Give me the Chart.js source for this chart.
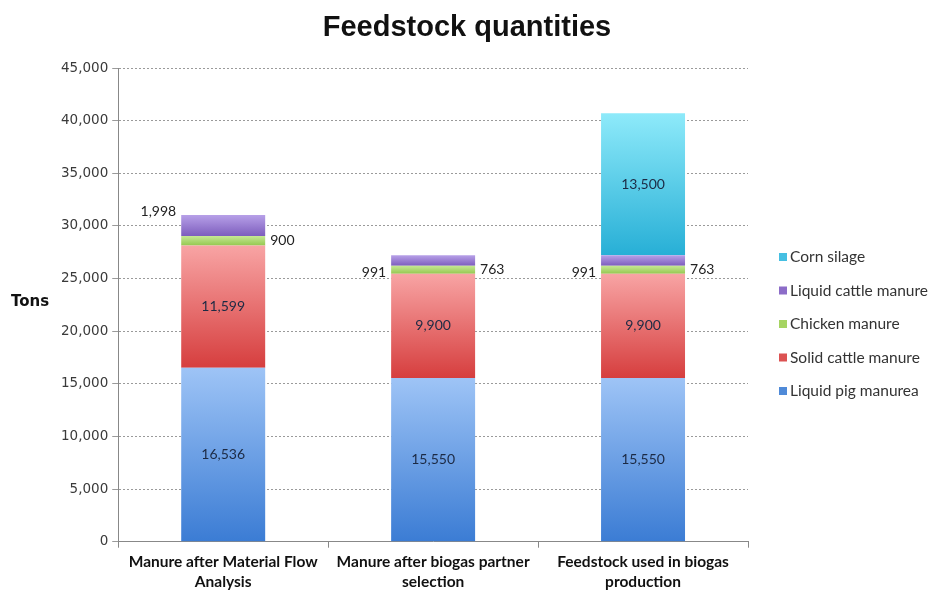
<!DOCTYPE html>
<html>
<head>
<meta charset="utf-8">
<script src="https://cdn.jsdelivr.net/npm/chart.js@4"></script>
<style>
  html, body { margin: 0; padding: 0; background: #fff; }
  #wrap { width: 932px; height: 590px; }
</style>
</head>
<body>
<div id="wrap"><canvas id="feedChart" width="932" height="590"></canvas></div>
<script>
// chart data
const categories = [
  ['Manure after Material Flow', 'Analysis'],
  ['Manure after biogas partner', 'selection'],
  ['Feedstock used in biogas', 'production']
];
const seriesNames = ['Liquid pig manurea', 'Solid cattle manure', 'Chicken manure', 'Liquid cattle manure', 'Corn silage'];
const liquidPig = [16536, 15550, 15550];
const solidCattle = [11599, 9900, 9900];
const chicken = [900, 763, 763];
const liquidCattle = [1998, 991, 991];
const cornSilage = [0, 0, 13500];
const yTicks = [0, 5000, 10000, 15000, 20000, 25000, 30000, 35000, 40000, 45000];

const seriesValues = [liquidPig, solidCattle, chicken, liquidCattle, cornSilage];

// top / bottom gradient colours and the flat colour for the legend box
const palette = [
  { top: '#9ec4f6', bottom: '#3b7cd4', flat: '#4f8ad8' },
  { top: '#f8a4a4', bottom: '#d63e3e', flat: '#dc5252' },
  { top: '#c6e894', bottom: '#95c850', flat: '#a6d462' },
  { top: '#b7a0e8', bottom: '#7d5dbd', flat: '#8c6cc8' },
  { top: '#8eeafa', bottom: '#27afd6', flat: '#45bfe2' }
];

function segmentFill(dsIndex) {
  return function (context) {
    const c = palette[dsIndex];
    if (context.type !== 'data') return c.flat;
    const chart = context.chart;
    const y = chart.scales.y;
    if (!y || !chart.chartArea) return c.flat;
    let start = 0;
    for (let i = 0; i < dsIndex; i++) start += seriesValues[i][context.dataIndex];
    const end = start + seriesValues[dsIndex][context.dataIndex];
    const g = chart.ctx.createLinearGradient(0, y.getPixelForValue(end), 0, y.getPixelForValue(start));
    g.addColorStop(0, c.top);
    g.addColorStop(1, c.bottom);
    return g;
  };
}

const fmt = v => v.toLocaleString('en-US');

// value labels: big segments inside, small ones beside the bar
const valueLabels = {
  id: 'valueLabels',
  afterDatasetsDraw(chart) {
    const ctx = chart.ctx;
    ctx.save();
    ctx.font = '14px Lato, "Open Sans", sans-serif';
    ctx.textBaseline = 'middle';
    chart.data.datasets.forEach((ds, di) => {
      const meta = chart.getDatasetMeta(di);
      meta.data.forEach((bar, i) => {
        const v = ds.data[i];
        if (!v) return;
        const half = bar.width / 2;
        const mid = (bar.y + bar.base) / 2;
        if (di === 2) {
          ctx.fillStyle = '#222';
          ctx.textAlign = 'left';
          ctx.fillText(fmt(v), bar.x + half + 5, mid);
        } else if (di === 3) {
          const shift = [-14, 12, 12][i];
          ctx.fillStyle = '#222';
          ctx.textAlign = 'right';
          ctx.fillText(fmt(v), bar.x - half - 5, mid + shift);
        } else {
          ctx.fillStyle = '#1c2a44';
          ctx.textAlign = 'center';
          ctx.fillText(fmt(v), bar.x, mid);
        }
      });
    });
    ctx.restore();
  }
};

// title, horizontal y axis title and the legend on the right
const decorations = {
  id: 'decorations',
  afterDraw(chart) {
    const ctx = chart.ctx;
    const area = chart.chartArea;
    ctx.save();
    ctx.fillStyle = '#111';
    ctx.textAlign = 'center';
    ctx.textBaseline = 'middle';
    ctx.font = 'bold 29px "Liberation Sans", Arial, sans-serif';
    ctx.fillText('Feedstock quantities', 467, 28);

    ctx.textAlign = 'left';
    ctx.font = 'bold 15px "DejaVu Sans", sans-serif';
    ctx.fillText('Tons', 11, 302);

    // legend, top entry is the last dataset
    ctx.font = '15.5px Lato, "Open Sans", sans-serif';
    const n = chart.data.datasets.length;
    for (let k = 0; k < n; k++) {
      const di = n - 1 - k;
      const y = 257 + k * 33.5;
      ctx.fillStyle = palette[di].flat;
      ctx.fillRect(area.right + 31, y - 4, 8, 8);
      ctx.fillStyle = '#333';
      ctx.fillText(chart.data.datasets[di].label, area.right + 42, y);
    }
    ctx.restore();
  }
};

const ctx = document.getElementById('feedChart').getContext('2d');

const feedChart = new Chart(ctx, {
  type: 'bar',
  data: {
    labels: categories,
    datasets: seriesNames.map((name, i) => ({
      label: name,
      data: seriesValues[i],
      backgroundColor: segmentFill(i),
      borderWidth: 0,
      barPercentage: 0.4,
      categoryPercentage: 1
    }))
  },
  options: {
    responsive: false,
    animation: false,
    layout: { padding: { left: 57, right: 184, top: 68, bottom: -6 } },
    scales: {
      x: {
        stacked: true,
        grid: { display: true, drawOnChartArea: false, offset: true, color: '#888', tickLength: 6 },
        border: { color: '#888' },
        ticks: {
          color: '#111',
          font: { family: 'Lato, "Open Sans", sans-serif', size: 15.5, weight: 'bold', lineHeight: 1.3 },
          maxRotation: 0,
          autoSkip: false,
          padding: 4
        }
      },
      y: {
        stacked: true,
        min: 0,
        max: 45000,
        afterBuildTicks(axis) { axis.ticks = yTicks.map(v => ({ value: v })); },
        grid: { color: '#9a9a9a', tickLength: 6 },
        border: { color: '#888', dash: [2, 2] },
        ticks: {
          color: '#3a3a3a',
          font: { family: '"DejaVu Sans", sans-serif', size: 13.5 },
          padding: 4,
          callback: v => fmt(v)
        }
      }
    },
    plugins: {
      title: { display: false },
      legend: { display: false },
      tooltip: { enabled: false }
    }
  },
  plugins: [valueLabels, decorations]
});
</script>
</body>
</html>
